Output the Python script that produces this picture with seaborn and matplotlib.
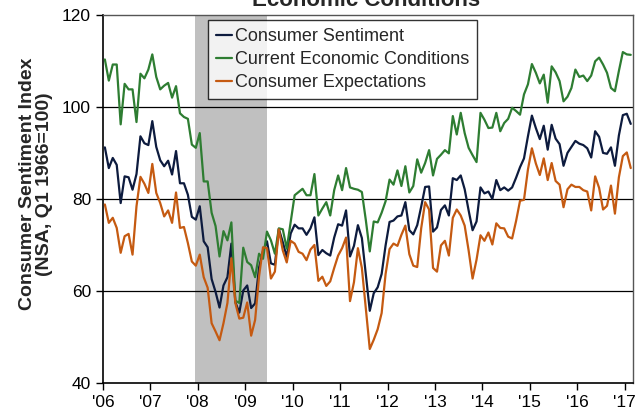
import numpy as np
import pandas as pd
import matplotlib
matplotlib.use("Agg")
import matplotlib.pyplot as plt
import seaborn as sns

# monthly readings, Jan 2006 - Feb 2017
sentiment = [
    91.2, 86.7, 88.9, 87.4, 79.1, 84.9, 84.7, 82.0, 85.4, 93.6, 92.1, 91.7,
    96.9, 91.3, 88.4, 87.1, 88.3, 85.3, 90.4, 83.4, 83.4, 80.9, 76.1, 75.5,
    78.4, 70.8, 69.5, 62.6, 59.8, 56.4, 61.2, 63.0, 70.3, 57.6, 55.3, 60.1,
    61.2, 56.3, 57.3, 65.1, 68.7, 70.8, 66.0, 65.7, 73.5, 70.6, 67.4, 72.5,
    74.4, 73.6, 73.6, 72.2, 73.6, 76.0, 67.8, 68.9, 68.2, 67.7, 71.6, 74.5,
    74.2, 77.5, 67.5, 69.8, 74.3, 71.5, 63.7, 55.7, 59.5, 60.8, 63.7, 69.9,
    75.0, 75.3, 76.2, 76.4, 79.3, 73.2, 72.3, 74.3, 78.3, 82.6, 82.7, 72.9,
    73.8, 77.6, 78.6, 76.4, 84.5, 84.1, 85.1, 82.1, 77.5, 73.2, 75.1, 82.5,
    81.2, 81.6, 80.0, 84.1, 81.9, 82.5, 81.8, 82.5, 84.6, 86.9, 88.8, 93.6,
    98.1, 95.4, 93.0, 95.9, 90.7, 96.1, 93.1, 91.9, 87.2, 90.0, 91.3, 92.6,
    92.0, 91.7, 91.0, 89.0, 94.7, 93.5, 90.0, 89.8, 91.2, 87.2, 93.8, 98.2,
    98.5, 96.3,
]
current = [
    110.3, 105.7, 109.2, 109.2, 96.2, 105.0, 103.8, 103.8, 96.7, 107.2, 106.2, 108.1,
    111.4, 106.5, 103.8, 104.6, 105.2, 102.0, 104.5, 98.6, 97.8, 97.4, 91.8, 91.1,
    94.3, 83.8, 83.8, 77.0, 74.1, 67.5, 73.0, 71.0, 74.9, 57.9, 57.4, 69.4,
    66.3, 65.6, 63.0, 68.1, 67.0, 72.9, 71.0, 68.1, 73.6, 73.4, 69.2, 75.0,
    80.8, 81.5, 82.2, 80.8, 80.8, 85.4, 76.4, 77.9, 79.3, 76.4, 81.9, 85.1,
    81.9, 86.7, 82.5, 82.2, 82.0, 81.5, 75.4, 68.6, 75.1, 74.9, 77.0, 79.5,
    84.2, 83.1, 86.2, 82.8, 87.1, 81.4, 82.8, 88.6, 85.7, 87.8, 90.6, 85.1,
    88.7, 89.6, 90.6, 89.9, 98.0, 94.0, 98.7, 94.3, 91.1, 89.5, 88.0, 98.7,
    97.2, 95.4, 95.5, 98.7, 94.7, 96.5, 97.4, 99.8, 99.1, 98.3, 102.7, 104.9,
    109.3, 107.4, 105.1, 107.0, 100.9, 108.8, 107.5, 105.6, 101.2, 102.2, 104.1, 108.1,
    106.5, 106.8, 105.6, 106.8, 109.9, 110.7, 109.2, 107.4, 104.1, 103.4, 107.8, 111.9,
    111.4, 111.3,
]
expectations = [
    78.8, 74.8, 75.9, 73.7, 68.3, 71.9, 72.4, 67.9, 78.4, 84.8, 83.3, 81.3,
    87.6, 81.3, 79.1, 76.2, 77.5, 74.8, 81.4, 73.7, 73.9, 70.4, 66.4, 65.5,
    67.9, 63.0, 60.7, 53.0, 51.2, 49.3, 53.0, 57.4, 67.1, 57.4, 54.0, 54.2,
    57.5, 50.3, 53.7, 63.2, 69.5, 69.3, 62.7, 64.2, 73.4, 68.8, 66.2, 70.9,
    70.3, 68.5, 68.1, 66.7, 69.0, 70.0, 62.2, 63.1, 61.1, 62.1, 65.0, 67.7,
    69.3, 71.6, 57.8, 61.9, 69.3, 65.0, 56.2, 47.4, 49.4, 51.7, 55.2, 63.7,
    69.1, 70.3, 69.8, 72.2, 74.2, 68.0, 65.5, 65.2, 73.6, 79.3, 77.7, 65.0,
    64.2, 69.9, 70.9, 67.7, 75.9, 77.7, 76.4, 74.2, 68.8, 62.7, 66.8, 72.1,
    70.9, 72.7, 70.1, 74.7, 73.7, 73.6, 71.8, 71.4, 75.2, 79.6, 79.8, 86.4,
    91.0, 87.7, 85.2, 88.8, 84.1, 87.8, 83.9, 83.1, 78.2, 82.1, 83.1, 82.6,
    82.6, 81.9, 81.6, 77.5, 84.9, 82.4, 77.7, 78.5, 82.9, 76.8, 84.7, 89.3,
    90.1, 86.7,
]
series_names = ["Consumer Sentiment", "Current Economic Conditions", "Consumer Expectations"]
colors = ["#0d1b3e", "#2e7d32", "#c55a11"]
year_labels = ["'06", "'07", "'08", "'09", "'10", "'11", "'12", "'13", "'14", "'15", "'16", "'17"]

n = len(sentiment)
t = 2006 + (np.arange(n) + 0.5) / 12.0
df = pd.DataFrame({"t": t, series_names[0]: sentiment,
                   series_names[1]: current, series_names[2]: expectations})
long_df = df.melt(id_vars="t", var_name="Series", value_name="Value")

sns.set_style("ticks")
plt.rcParams["font.family"] = ["Liberation Sans", "DejaVu Sans"]

fig = plt.figure(figsize=(6.43, 4.11), dpi=100)
ax = fig.add_axes([0.160, 0.068, 0.825, 0.896])

ax.axvspan(2007.95, 2009.46, color="#c0c0c0", lw=0, zorder=0)
for yv in [60, 80, 100]:
    ax.axhline(yv, color="black", lw=0.9, zorder=1)

sns.lineplot(data=long_df, x="t", y="Value", hue="Series", hue_order=series_names,
             palette=colors, lw=1.6, ax=ax, zorder=3)

ax.set_xlim(2006.0, 2017.18)
ax.set_ylim(40, 120)
ax.set_yticks([40, 60, 80, 100, 120])
ax.set_xticks(np.arange(2006, 2018))
ax.set_xticklabels(year_labels)
ax.tick_params(axis="both", labelsize=12.5, direction="out", length=5, width=1, colors="black")
ax.set_xlabel("")
ax.set_ylabel("Consumer Sentiment Index\n(NSA, Q1 1966=100)", fontsize=14,
              fontweight="bold", linespacing=1.0)
ax.yaxis.set_label_coords(-0.094, 0.54)

for side in ["left", "bottom"]:
    ax.spines[side].set_color("black")
    ax.spines[side].set_linewidth(1.2)
for side in ["top", "right"]:
    ax.spines[side].set_color("#555555")
    ax.spines[side].set_linewidth(1.0)

handles, labels = ax.get_legend_handles_labels()
leg = ax.legend(handles, labels, loc="upper left", bbox_to_anchor=(0.198, 0.985),
                fontsize=13, frameon=True, fancybox=False, edgecolor="black",
                handlelength=0.9, handletextpad=0.15, labelspacing=0.32,
                borderpad=0.45, borderaxespad=0)
leg.get_frame().set_linewidth(1.0)

fig.text(0.569, 0.986, "Economic Conditions", ha="center", va="baseline",
         fontsize=16, fontweight="bold")

fig.savefig("out.png", dpi=100)
